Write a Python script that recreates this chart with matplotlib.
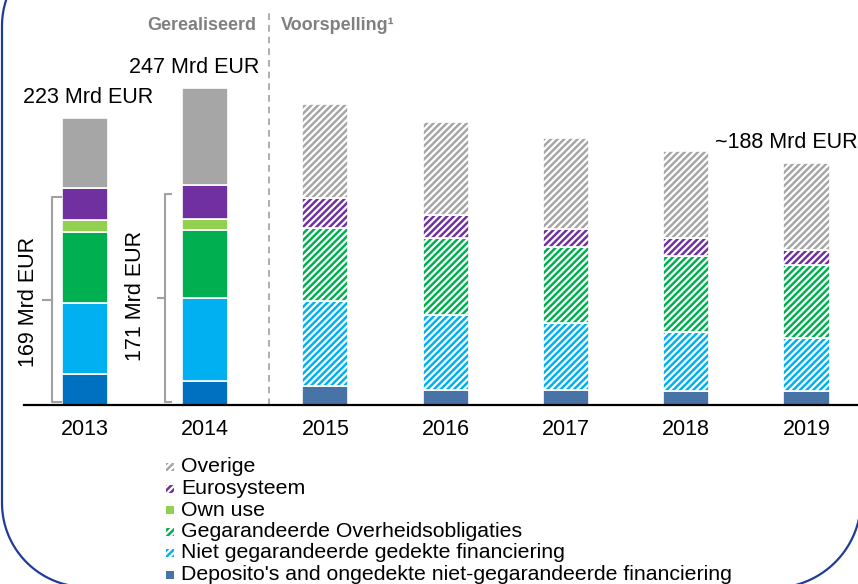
import numpy as np
import matplotlib
matplotlib.use("Agg")
import matplotlib.pyplot as plt
from matplotlib.patches import PathPatch, Rectangle
from matplotlib.path import Path
from matplotlib.transforms import IdentityTransform

# ---- data (Mrd EUR) ----
years = ['2013', '2014', '2015', '2016', '2017', '2018', '2019']
n_actual = 2  # 2013-2014 gerealiseerd, daarna voorspelling

deposito = [24, 19, 15, 12, 12, 11, 11]
niet_gegarandeerd = [55, 64, 66, 58, 52, 46, 41]
gegarandeerd = [56, 53, 57, 60, 59, 59, 57]
own_use = [9, 9, 0, 0, 0, 0, 0]
eurosysteem = [25, 26, 23, 18, 14, 14, 12]
overige = [54, 76, 73, 72, 71, 68, 67]

series_names = ["Deposito's and ongedekte niet-gegarandeerde financiering",
                'Niet gegarandeerde gedekte financiering',
                'Gegarandeerde Overheidsobligaties',
                'Own use',
                'Eurosysteem',
                'Overige']
total_labels = {0: '223 Mrd EUR', 1: '247 Mrd EUR', 6: '~188 Mrd EUR'}
bracket_labels = ['169 Mrd EUR', '171 Mrd EUR']

# ---- styles ----
colors_actual = ['#0070C0', '#00B0F0', '#00B050', '#92D050', '#7030A0', '#A6A6A6']
colors_forecast = ['#4873A6', '#00B0F0', '#00B050', '#92D050', '#7030A0', '#A6A6A6']
hatched = [False, True, True, False, True, True]
HATCH = '/////'

W, H = 858, 584
plt.rcParams['font.family'] = ['Liberation Sans', 'DejaVu Sans']
plt.rcParams['hatch.linewidth'] = 1.6


def arc_points(cx, cy, r, a0, a1, n=40):
    """ Points on a circle arc, image coords (y down) -> display coords """
    t = np.radians(np.linspace(a0, a1, n))
    return [(cx + r * np.cos(a), H - (cy + r * np.sin(a))) for a in t]


def frame_path():
    """ Rounded frame around the chart, partly outside the image """
    pts = [(2 + 84, H + 80)]
    pts += arc_points(86, 26, 84, 270, 180)          # top-left corner
    pts += [(2, H - 503)]
    pts += arc_points(86, 503, 84, 180, 90)          # bottom-left corner
    pts += arc_points(773, 500, 88, 90, 0)           # bottom-right corner
    pts += [(861, H + 80)]
    return Path(pts)


def draw_chart():
    """ Stacked bars: gerealiseerd vs voorspelling """
    fig = plt.figure(figsize=(W / 100, H / 100), dpi=100)
    ax = fig.add_axes([24 / W, 179 / H, 834 / W, 405 / H])

    x = np.arange(len(years))
    actual = x < n_actual
    width = 0.383
    stacks = [deposito, niet_gegarandeerd, gegarandeerd, own_use, eurosysteem, overige]
    bottom = np.zeros(len(years))
    for vals, ca, cf, h in zip(stacks, colors_actual, colors_forecast, hatched):
        vals = np.array(vals, dtype=float)
        ax.bar(x[actual], vals[actual], width, bottom=bottom[actual],
               color=ca, edgecolor='white', linewidth=1.2)
        m = ~actual & (vals > 0)
        ax.bar(x[m], vals[m], width, bottom=bottom[m], color=cf,
               edgecolor='white', linewidth=1.2, hatch=HATCH if h else None)
        bottom += vals
    totals = bottom

    # totals above bars
    label_dx = {0: 0.03, 1: -0.09, 6: -0.17}
    for i, txt in total_labels.items():
        ax.text(i + label_dx[i], totals[i] + 16, txt, ha='center', va='center',
                fontsize=15.5, clip_on=False)

    # brackets on the actual bars
    subtotals = totals[:n_actual] - np.array(overige[:n_actual])
    bx = [-0.269, -0.333]
    tx = [-0.197, -0.286]
    mx = [-0.344, -0.388]
    lx = [-0.47, -0.582]
    for i in range(n_actual):
        top, bot = subtotals[i] - 7, 2
        mid = (top + bot) / 2
        ax.plot([i + tx[i], i + bx[i], i + bx[i], i + tx[i]], [top, top, bot, bot],
                color='#A0A0A0', lw=1.5, clip_on=False)
        ax.plot([i + mx[i], i + bx[i]], [mid, mid], color='#A0A0A0', lw=1.5, clip_on=False)
        ax.text(i + lx[i], mid - 2 + 4 * i, bracket_labels[i], rotation=90,
                ha='center', va='center', fontsize=15.5)

    # separator gerealiseerd / voorspelling
    sep = n_actual - 0.465
    ax.plot([sep, sep], [0, 307], ls=(0, (4, 3)), color='#A0A0A0', lw=1.2, clip_on=False)
    ax.text(sep - 0.11, 295.7, 'Gerealiseerd', ha='right', va='center',
            fontweight='bold', color='#808080', fontsize=13)
    ax.text(sep + 0.097, 295.7, 'Voorspelling\u00b9', ha='left', va='center',
            fontweight='bold', color='#808080', fontsize=13)

    ax.set_xlim(-0.505, 6.428)
    ax.set_ylim(0, 315.2)
    ax.set_xticks(x)
    ax.set_xticklabels(years, fontsize=15.5)
    ax.tick_params(axis='x', length=0, pad=10)
    ax.set_yticks([])
    for s in ['top', 'left', 'right']:
        ax.spines[s].set_visible(False)
    ax.spines['bottom'].set_linewidth(1.6)
    ax.spines['bottom'].set_color('black')
    ax.patch.set_alpha(0)

    # legend (top to bottom: reverse stack order)
    ys = [467, 488.5, 510, 531.5, 553, 574.5]
    for k, idx in enumerate(range(len(series_names) - 1, -1, -1)):
        py = H - ys[k]
        rect = Rectangle((166, py - 4), 8, 8, transform=IdentityTransform(),
                         facecolor=colors_forecast[idx], edgecolor='white', linewidth=0,
                         hatch=HATCH if hatched[idx] else None)
        fig.add_artist(rect)
        fig.text(181 / W, py / H, series_names[idx], ha='left', va='center', fontsize=15.3)

    # rounded frame
    frame = PathPatch(frame_path(), transform=IdentityTransform(), facecolor='none',
                      edgecolor='#1F3C99', linewidth=1.6)
    fig.add_artist(frame)

    fig.savefig('out.png', dpi=100)


if __name__ == "__main__":
    draw_chart()
